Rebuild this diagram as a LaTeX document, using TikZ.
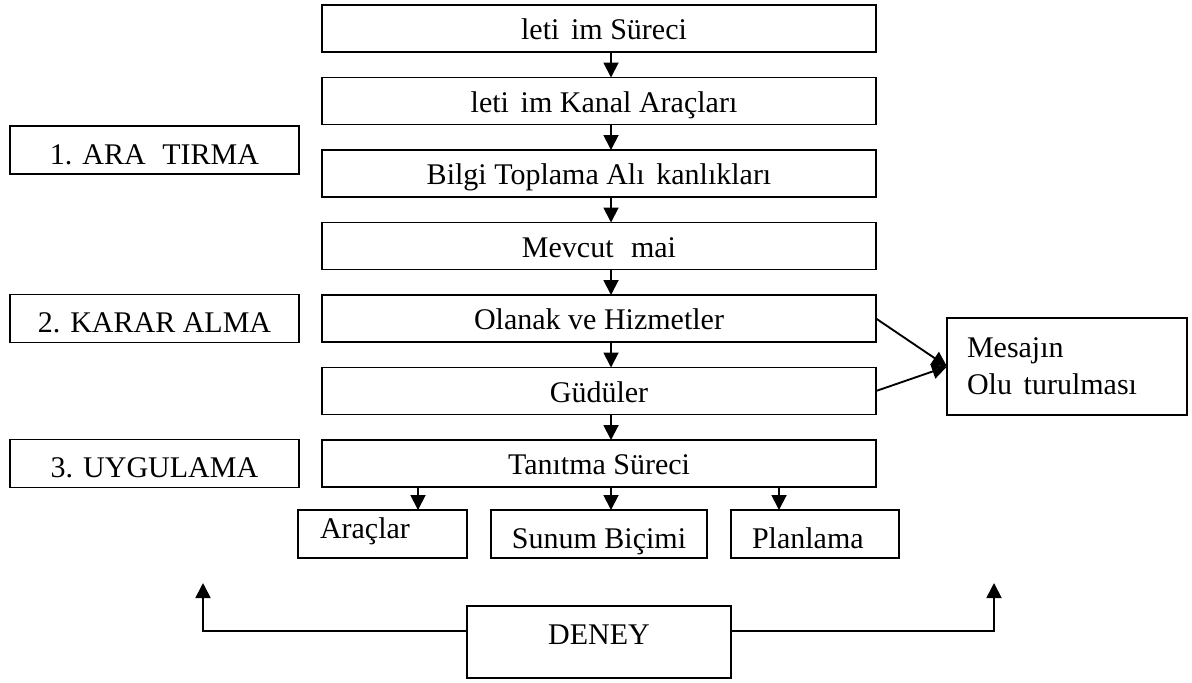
\documentclass[tikz,border=0pt]{standalone}
\usepackage{fontspec}
\setmainfont{Liberation Serif}
\usetikzlibrary{positioning,arrows.meta}

\begin{document}
\begin{tikzpicture}[
    x=0.4pt, y=-0.4pt,
    font=\fontsize{12pt}{14.8pt}\selectfont,
    line width=0.75pt,
    box/.style    ={draw, outer sep=0pt, inner sep=2pt,
                    minimum width=221.6pt, minimum height=18.8pt,
                    text height=9.8pt, text depth=1pt},
    phase/.style  ={draw, outer sep=0pt, inner sep=2pt,
                    minimum width=115.6pt, minimum height=19.2pt,
                    text height=11.2pt, text depth=0pt},
    sub/.style    ={draw, outer sep=0pt, inner ysep=2pt,
                    minimum height=19.2pt},
    arrow/.style  ={-{Triangle[length=6pt,width=6pt]}}
]
\useasboundingbox (0,0) rectangle (1192,682);

% --- main column ---
\node[box] (surec) at (599,28.5) {\hspace{0.333em}leti\hspace{0.389em}im S\"ureci};
\node[box, below=10.2pt of surec] (kanal) {\hspace{0.333em}leti\hspace{0.389em}im Kanal Ara\c{c}lar\i};
\node[box, below=10.2pt of kanal] (bilgi) {Bilgi Toplama Al\i\hspace{0.389em}kanl\i klar\i};
\node[box, below=10.2pt of bilgi] (imaj) {Mevcut \hspace{0.333em}mai};
\node[box, below=10.2pt of imaj] (olanak) {Olanak ve Hizmetler};
\node[box, below=10.2pt of olanak] (gudu) {G\"ud\"uler};
\node[box, below=10.2pt of gudu] (tanitma) {Tan\i tma S\"ureci};

% --- phases on the left ---
\node[phase] (arastirma) at (154.5,150) {1. ARA\hspace{0.556em}TIRMA};
\node[phase, left=9.2pt of olanak] (karar) {2. KARAR ALMA};
\node[phase, left=9.2pt of tanitma] (uygulama) {3. UYGULAMA};

% --- message box on the right ---
\node[draw, outer sep=0pt, align=left, text width=80pt, inner xsep=8pt,
      minimum height=38.8pt] (mesaj) at (1067,366.5)
      {Mesaj\i n\\Olu\hspace{0.389em}turulmas\i};

% --- tools under the promotion process ---
\node[sub, below=9.2pt of tanitma, minimum width=86.4pt, inner xsep=2pt,
      text height=11.2pt, text depth=0pt] (sunum) {Sunum Bi\c{c}imi};
\node[sub, left=9.6pt of sunum, align=left, text width=50pt, inner xsep=8.8pt,
      text height=8pt, text depth=4.8pt] (arac) {Ara\c{c}lar};
\node[sub, right=9.6pt of sunum, align=left, text width=50.4pt, inner xsep=8.4pt,
      text height=11.2pt, text depth=0pt] (plan) {Planlama};

% --- experiment ---
\node[draw, outer sep=0pt, below=19.2pt of sunum, minimum width=105.6pt,
      minimum height=28.8pt, text height=8pt, text depth=6.4pt] (deney) {DENEY};
\coordinate (geriSol) at (203,583);
\coordinate (geriSag) at (994,583);

% --- arrows down ---
\draw[arrow] ([xshift=4.8pt]surec.south)  -- ([xshift=4.8pt]kanal.north);
\draw[arrow] ([xshift=4.8pt]kanal.south)  -- ([xshift=4.8pt]bilgi.north);
\draw[arrow] ([xshift=4.8pt]bilgi.south)  -- ([xshift=4.8pt]imaj.north);
\draw[arrow] ([xshift=4.8pt]imaj.south)   -- ([xshift=4.8pt]olanak.north);
\draw[arrow] ([xshift=4.8pt]olanak.south) -- ([xshift=4.8pt]gudu.north);
\draw[arrow] ([xshift=4.8pt]gudu.south)   -- ([xshift=4.8pt]tanitma.north);
\draw[arrow] ([xshift=-72.4pt]tanitma.south) -- ([xshift=-72.4pt]tanitma.south |- arac.north);
\draw[arrow] ([xshift=4.8pt]tanitma.south)   -- ([xshift=4.8pt]sunum.north);
\draw[arrow] ([xshift=72pt]tanitma.south)    -- ([xshift=72pt]tanitma.south |- plan.north);

% --- into the message box ---
\draw[arrow] (olanak.east) -- (mesaj.west);
\draw[arrow] (gudu.east)   -- (mesaj.west);

% --- feedback from the experiment ---
\draw[arrow] ([yshift=4.4pt]deney.west) -| (geriSol);
\draw[arrow] ([yshift=4.4pt]deney.east) -| (geriSag);

\end{tikzpicture}
\end{document}
